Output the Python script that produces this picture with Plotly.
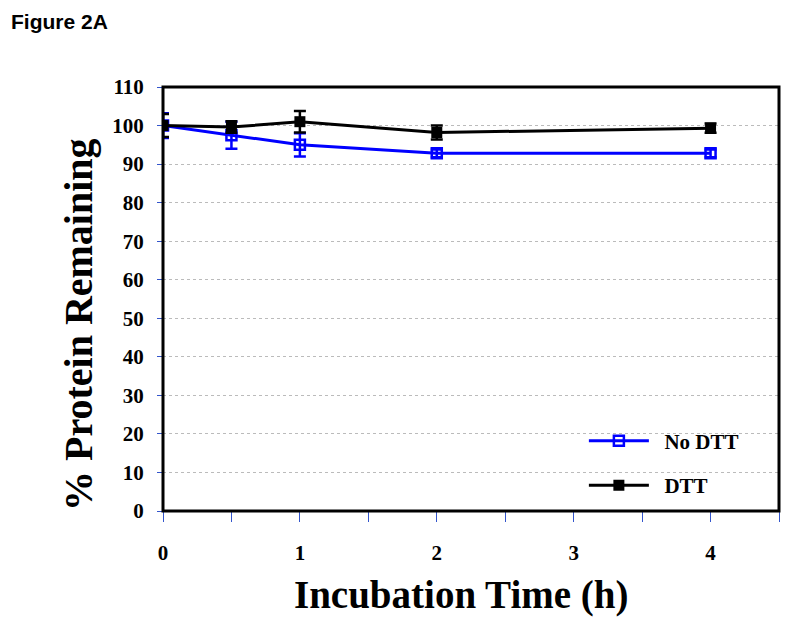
import plotly.graph_objects as go

time_h = [0, 0.5, 1, 2, 4]
no_dtt = [100, 97.5, 95, 92.8, 92.8]
no_dtt_err = [3.2, 3.5, 3.0, 1.0, 1.0]
dtt = [100, 99.6, 101, 98.2, 99.3]
dtt_err = [3.0, 1.5, 2.8, 1.8, 1.2]

x_ticks = [0, 1, 2, 3, 4]
y_ticks = list(range(0, 111, 10))

fig = go.Figure()
fig.add_trace(go.Scatter(
    x=time_h, y=no_dtt, name="<b>  No DTT</b>", mode="lines+markers", legendgroup="a",
    line=dict(color="#0000FF", width=3),
    marker=dict(symbol="square-open", size=10, color="#0000FF", line=dict(width=2.5, color="#0000FF")),
    error_y=dict(type="data", array=no_dtt_err, color="#0000FF", thickness=2.5, width=6),
))
fig.add_trace(go.Scatter(
    x=time_h, y=dtt, name="<b>  DTT</b>", mode="lines+markers", legendgroup="b",
    line=dict(color="black", width=3),
    marker=dict(symbol="square", size=11, color="black"),
    error_y=dict(type="data", array=dtt_err, color="black", thickness=2.5, width=6),
))

times = "Times New Roman, Liberation Serif, serif"
# page has an 8px body margin, so the figure is offset by 8px
W, H = 781, 616
L, R, T, B = 155, 10, 79, 113
pw = W - L - R
ph = H - T - B
fig.update_layout(
    width=W, height=H,
    margin=dict(l=L, r=R, t=T, b=B),
    paper_bgcolor="white", plot_bgcolor="white",
    showlegend=True,
    legend=dict(x=0.68 + 2 / pw, y=0.22 - 3 / ph, xanchor="left", yanchor="top",
                bgcolor="rgba(0,0,0,0)", tracegroupgap=14,
                font=dict(family=times, size=21, color="black"),
                itemwidth=60),
    font=dict(family=times, color="black"),
    xaxis=dict(
        range=[0, 4.5], tickvals=x_ticks, ticktext=[f"<b>{v}</b>" for v in x_ticks],
        ticks="outside", ticklen=10, tickcolor="#3355CC", tickwidth=1,
        minor=dict(dtick=0.5, tick0=0, ticks="outside", ticklen=10, tickcolor="#3355CC", tickwidth=1),
        showline=True, linecolor="#3355CC", linewidth=1,
        showgrid=False, zeroline=False, automargin=False,
        tickfont=dict(family=times, size=21, color="black"),
        ticklabelstandoff=13,
    ),
    yaxis=dict(
        range=[0, 110], tickvals=y_ticks, ticktext=[f"<b>{v}</b>" for v in y_ticks],
        ticks="outside", ticklen=5, tickcolor="#3355CC",
        showgrid=True, gridcolor="#BBBBBB", griddash="dot", gridwidth=1,
        zeroline=False, showline=False, automargin=False,
        tickfont=dict(family=times, size=21, color="black"),
        ticklabelstandoff=9,
    ),
)
fig.add_shape(type="rect", xref="paper", yref="paper", x0=0, y0=0, x1=1, y1=1,
              line=dict(color="black", width=3), layer="above")
# Axis titles (positioned like the reference: y title sits lower than centre)
fig.add_annotation(text="<b>% Protein Remaining</b>", xref="paper", yref="paper",
                   x=(70 - L) / pw, y=1 - (317 - T) / ph, textangle=-90,
                   xanchor="center", yanchor="middle", showarrow=False,
                   font=dict(family=times, size=40, color="black"))
fig.add_annotation(text="<b>Incubation Time (h)</b>", xref="paper", yref="paper",
                   x=(453 - L) / pw, y=1 - (587 - T) / ph,
                   xanchor="center", yanchor="middle", showarrow=False,
                   font=dict(family=times, size=39, color="black"))
fig.add_annotation(text="<b>Figure 2A</b>", xref="paper", yref="paper",
                   x=(2 - L) / pw, y=1 + (T - 1) / ph,
                   xanchor="left", yanchor="top", showarrow=False, borderpad=0,
                   font=dict(family="Arial, Liberation Sans, sans-serif", size=21, color="black"))
fig.write_html("out.html")
